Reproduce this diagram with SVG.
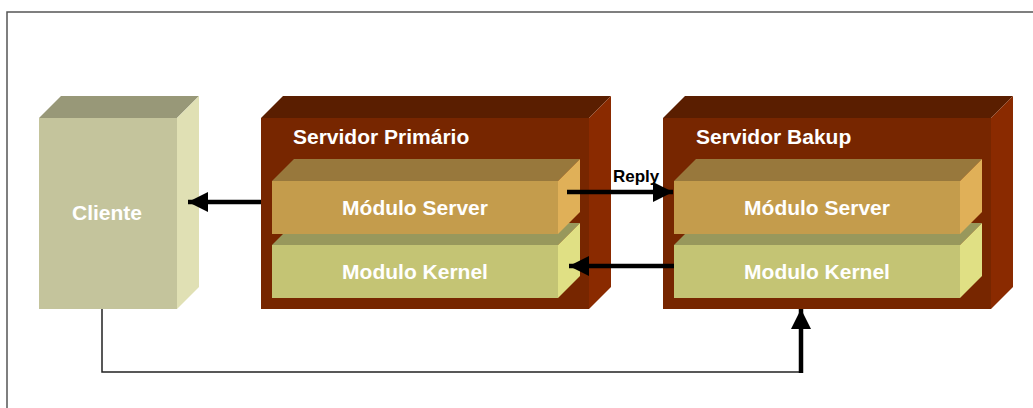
<svg xmlns="http://www.w3.org/2000/svg" width="1033" height="408" viewBox="0 0 1033 408">
<defs>
<style>
.lbl{font-family:"Liberation Sans",Arial,sans-serif;font-weight:bold;font-size:21px;fill:#FFFFFF}
.mid{text-anchor:middle}
.rep{font-family:"Liberation Sans",Arial,sans-serif;font-weight:bold;font-size:17px;fill:#000000}
.thick{stroke:#000;stroke-width:4.5;fill:none}
.thin{stroke:#222;stroke-width:1.5;fill:none}
.cf{fill:#C4C49C}.ct{fill:#989878}.cr{fill:#E0E0B4}
.sf{fill:#772600}.st{fill:#5A1E00}.sr{fill:#8A2A00}
.mf{fill:#C49C4C}.mt{fill:#98783C}.mr{fill:#E0B058}
.kf{fill:#C4C474}.kt{fill:#98985C}.kr{fill:#E0E084}
</style>
<marker id="ah" markerUnits="userSpaceOnUse" markerWidth="20" markerHeight="20" refX="20" refY="10" orient="auto">
<path d="M0,0 L20,10 L0,20 Z" fill="#000"/>
</marker>
</defs>
<rect width="1033" height="408" fill="#FFFFFF"/>
<path d="M7,408 L7,12 L1033,12" stroke="#555" stroke-width="1.5" fill="none"/>

<g id="cliente">
<rect class="cf" x="39" y="118" width="138" height="191"/>
<polygon class="ct" points="39,118 61,96 199,96 177,118"/>
<polygon class="cr" points="177,118 199,96 199,287 177,309"/>
<text class="lbl mid" x="107" y="220">Cliente</text>
</g>

<g id="servidor-primario">
<rect class="sf" x="261" y="118" width="328" height="191"/>
<polygon class="st" points="261,118 283,96 611,96 589,118"/>
<polygon class="sr" points="589,118 611,96 611,287 589,309"/>
<text class="lbl" x="293" y="144">Servidor Primário</text>
<g id="primario-kernel">
<rect class="kf" x="272" y="245" width="286" height="53"/>
<polygon class="kt" points="272,245 294,223 580,223 558,245"/>
<polygon class="kr" points="558,245 580,223 580,276 558,298"/>
<text class="lbl mid" x="415" y="279">Modulo Kernel</text>
</g>
<g id="primario-server">
<rect class="mf" x="272" y="181" width="286" height="53"/>
<polygon class="mt" points="272,181 294,159 580,159 558,181"/>
<polygon class="mr" points="558,181 580,159 580,212 558,234"/>
<text class="lbl mid" x="415" y="215">Módulo Server</text>
</g>
</g>

<g id="servidor-bakup">
<rect class="sf" x="663" y="118" width="328" height="191"/>
<polygon class="st" points="663,118 685,96 1013,96 991,118"/>
<polygon class="sr" points="991,118 1013,96 1013,287 991,309"/>
<text class="lbl" x="696" y="144">Servidor Bakup</text>
<g id="bakup-kernel">
<rect class="kf" x="674" y="245" width="286" height="53"/>
<polygon class="kt" points="674,245 696,223 982,223 960,245"/>
<polygon class="kr" points="960,245 982,223 982,276 960,298"/>
<text class="lbl mid" x="817" y="279">Modulo Kernel</text>
</g>
<g id="bakup-server">
<rect class="mf" x="674" y="181" width="286" height="53"/>
<polygon class="mt" points="674,181 696,159 982,159 960,181"/>
<polygon class="mr" points="960,181 982,159 982,212 960,234"/>
<text class="lbl mid" x="817" y="215">Módulo Server</text>
</g>
</g>

<g id="connectors">
<line class="thick" x1="261" y1="202" x2="188" y2="202" marker-end="url(#ah)"/>
<line class="thick" x1="567" y1="192" x2="673" y2="192" marker-end="url(#ah)"/>
<text class="rep" x="613" y="182">Reply</text>
<line class="thick" x1="674" y1="266" x2="569" y2="266" marker-end="url(#ah)"/>
<polyline class="thin" points="102,309 102,372 800,372"/>
<line class="thick" x1="801" y1="373" x2="801" y2="309" marker-end="url(#ah)"/>
</g>
</svg>
